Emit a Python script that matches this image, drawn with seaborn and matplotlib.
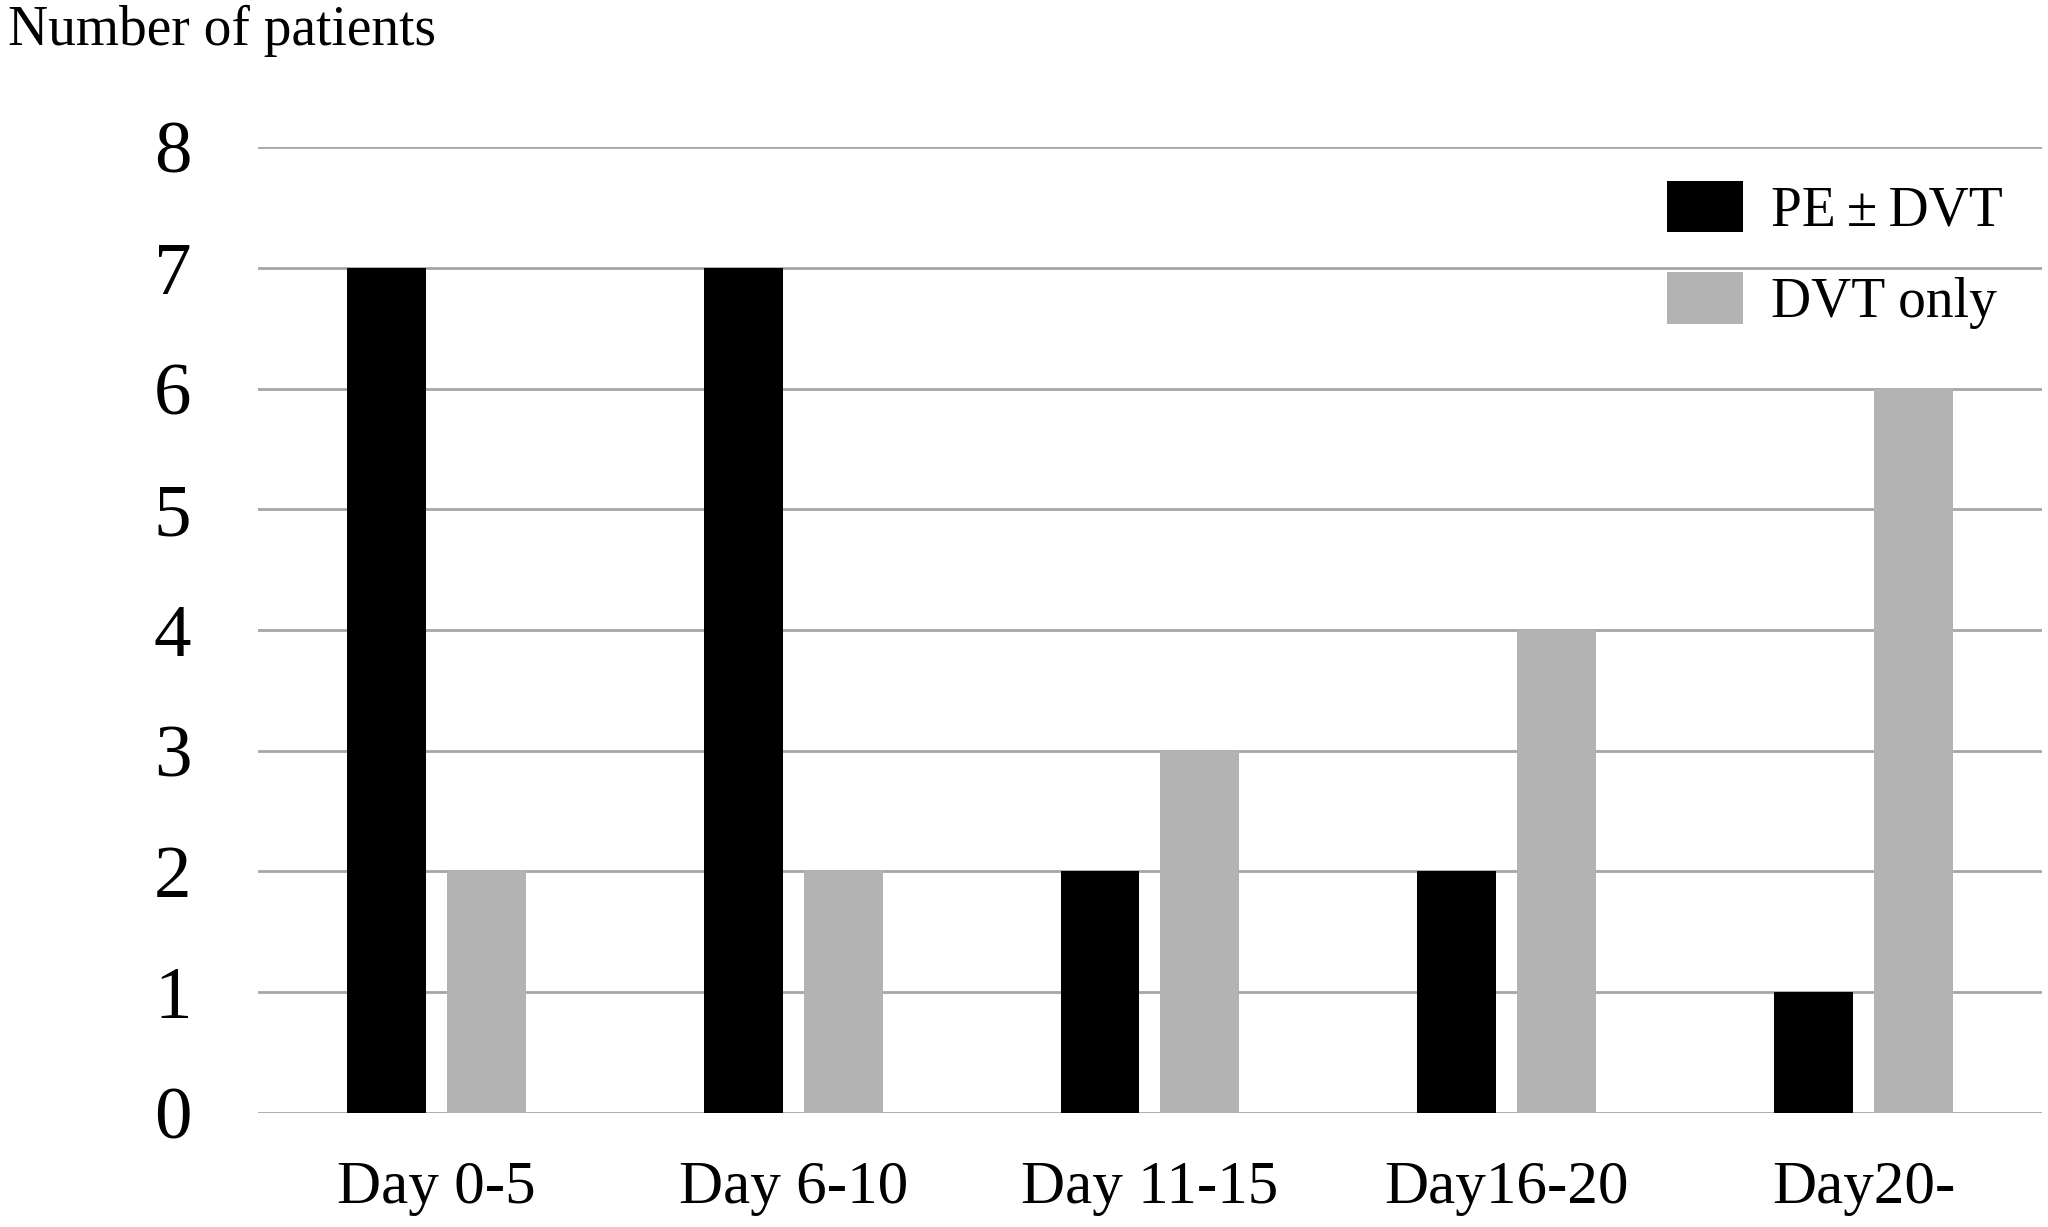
import pandas as pd
import seaborn as sns
import matplotlib.pyplot as plt

categories = ["Day 0-5", "Day 6-10", "Day 11-15", "Day16-20", "Day20-"]
pe_dvt = [7, 7, 2, 2, 1]
dvt_only = [2, 2, 3, 4, 6]
series_names = ["PE\u2009\u00b1\u2009DVT", "DVT only"]

df = pd.DataFrame({
    "period": categories * 2,
    "count": pe_dvt + dvt_only,
    "group": [series_names[0]] * 5 + [series_names[1]] * 5,
})

sns.set_style("white")
plt.rcParams["font.family"] = ["Liberation Serif", "DejaVu Serif"]
plt.rcParams["text.color"] = "black"
plt.rcParams["xtick.color"] = "black"
plt.rcParams["ytick.color"] = "black"

fig = plt.figure(figsize=(20.48, 12.27), dpi=100)
ax = fig.add_axes([0.126, 0.093, 0.871, 0.787])

sns.barplot(data=df, x="period", y="count", hue="group",
            palette=["#000000", "#b3b3b3"], width=0.56, gap=0.21,
            saturation=1, linewidth=0, ax=ax, zorder=3)

ax.set_ylim(0, 8)
ax.set_xlim(-0.5, 4.5)
ax.set_yticks(range(0, 9))
ax.yaxis.grid(True, color="#a6a6a6", linewidth=2)
ax.set_axisbelow(True)
for s in ax.spines.values():
    s.set_visible(False)
ax.tick_params(axis="y", labelsize=54, length=0, pad=48, labelcolor="black")
ax.tick_params(axis="x", labelsize=44, length=0, pad=34, labelcolor="black")
ax.set_xlabel("")
ax.set_ylabel("")

leg = ax.legend(loc="upper right", bbox_to_anchor=(1.006, 1.017), frameon=False,
                fontsize=40, handlelength=1.37, handleheight=1.05,
                labelspacing=0.62, handletextpad=0.5)
for t in leg.get_texts():
    t.set_color("black")

fig.text(0.004, 0.996, "Number of patients", fontsize=40, va="top", ha="left")

fig.savefig("out.png", dpi=100)
